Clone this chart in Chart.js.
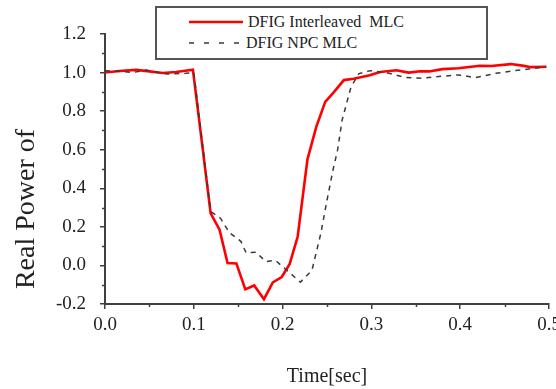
<!DOCTYPE html>
<html>
<head>
<meta charset="utf-8">
<script src="https://cdn.jsdelivr.net/npm/chart.js@4.4.1/dist/chart.umd.min.js"></script>
<style>
  html, body { margin: 0; padding: 0; background: #fff; }
  #wrap { position: relative; width: 556px; height: 389px; overflow: hidden; }
  #c { position: absolute; left: 0; top: 0; }
  #legend { position: absolute; left: 155px; top: 6px; width: 329px; height: 50px; border: 2px solid #555; background: #fff;
    font-family: "Liberation Serif", "Times New Roman", serif; font-size: 16px; color: #222; }
  .lrow { position: absolute; left: 0; height: 16px; line-height: 16px; white-space: pre; }
  .ltext { position: absolute; top: 0; }
  #ytitle { position: absolute; left: -75px; top: 193px; width: 200px; height: 32px; line-height: 32px; text-align: center;
    font-family: "Liberation Serif", "Times New Roman", serif; font-size: 28px; color: #222; transform: rotate(-90deg); }
</style>
</head>
<body>
<div id="wrap">
  <canvas id="c" width="556" height="389"></canvas>
  <div id="legend"></div>
  <div id="ytitle">Real Power of</div>
</div>
<script>
// ---- data ----
const seriesNames = ["DFIG Interleaved  MLC", "DFIG NPC MLC"];
const xTitle = "Time[sec]";

const timeInterleaved = [0.000, 0.016, 0.035, 0.050, 0.065, 0.080, 0.099, 0.119, 0.129, 0.138, 0.148, 0.158, 0.168, 0.179, 0.189, 0.199, 0.208, 0.217, 0.228, 0.238, 0.248, 0.258, 0.269, 0.280, 0.297, 0.310, 0.328, 0.342, 0.355, 0.365, 0.380, 0.398, 0.422, 0.435, 0.457, 0.470, 0.480, 0.497];
const powerInterleaved = [1.000, 1.008, 1.014, 1.006, 0.998, 1.003, 1.015, 0.270, 0.185, 0.012, 0.010, -0.124, -0.104, -0.175, -0.088, -0.060, 0.008, 0.150, 0.550, 0.720, 0.848, 0.900, 0.961, 0.968, 0.985, 1.003, 1.012, 1.000, 1.007, 1.006, 1.018, 1.022, 1.035, 1.034, 1.044, 1.036, 1.028, 1.030];

const timeNPC = [0.000, 0.020, 0.031, 0.046, 0.070, 0.091, 0.100, 0.119, 0.130, 0.140, 0.153, 0.159, 0.170, 0.181, 0.192, 0.206, 0.220, 0.233, 0.243, 0.250, 0.257, 0.262, 0.267, 0.277, 0.286, 0.299, 0.320, 0.338, 0.357, 0.372, 0.398, 0.417, 0.440, 0.458, 0.477, 0.497];
const powerNPC = [1.010, 1.005, 1.000, 1.013, 0.992, 0.996, 1.000, 0.280, 0.245, 0.170, 0.125, 0.065, 0.069, 0.020, 0.026, -0.030, -0.087, -0.026, 0.165, 0.338, 0.500, 0.600, 0.753, 0.925, 0.995, 1.010, 0.996, 0.975, 0.970, 0.978, 0.988, 0.974, 0.996, 1.008, 1.018, 1.030];

const xMinorTicks = [0.05, 0.15, 0.25, 0.35, 0.45];
const yMinorTicks = [-0.1, 0.1, 0.3, 0.5, 0.7, 0.9, 1.1];

// ---- styling ----
const axisColor = '#404040';
const textColor = '#222';
const serif = '"Liberation Serif", "Times New Roman", serif';
const redColor = '#ff0000';
const dashColor = '#3a3a3a';

function toPoints(xs, ys) { return xs.map((x, i) => ({ x: x, y: ys[i] })); }
function fmt(v) { const n = Number(v); return (Math.abs(n) < 1e-9 ? 0 : n).toFixed(1); }

// ---- HTML legend (real text) ----
(function buildLegend() {
  const lg = document.getElementById('legend');
  const rows = [
    { name: seriesNames[0], cy: 14, textLeft: 91, sample: '<svg width="54" height="6" style="position:absolute;left:32px;top:5px"><line x1="0" y1="3" x2="54" y2="3" stroke="' + redColor + '" stroke-width="2.6"/></svg>' },
    { name: seriesNames[1], cy: 35, textLeft: 89, sample: '<svg width="56" height="6" style="position:absolute;left:32px;top:5px"><line x1="0" y1="3" x2="56" y2="3" stroke="' + dashColor + '" stroke-width="1.5" stroke-dasharray="5 10"/></svg>' }
  ];
  rows.forEach(r => {
    const d = document.createElement('div');
    d.className = 'lrow';
    d.style.top = (r.cy - 8) + 'px';
    d.style.width = '100%';
    d.innerHTML = r.sample + '<span class="ltext" style="left:' + r.textLeft + 'px"></span>';
    d.querySelector('.ltext').textContent = r.name;
    lg.appendChild(d);
  });
})();

// ---- minor ticks plugin (positions via the scales) ----
const minorTickPlugin = {
  id: 'minorTicks',
  afterDraw(chart) {
    const ctx = chart.ctx, xs = chart.scales.x, ys = chart.scales.y;
    ctx.save();
    ctx.strokeStyle = axisColor;
    ctx.lineWidth = 1.5;
    ctx.beginPath();
    xMinorTicks.forEach(v => {
      const px = Math.round(xs.getPixelForValue(v)) + 0.5;
      ctx.moveTo(px, xs.top);
      ctx.lineTo(px, xs.top + 3);
    });
    yMinorTicks.forEach(v => {
      const py = Math.round(ys.getPixelForValue(v)) + 0.5;
      ctx.moveTo(ys.right - 3, py);
      ctx.lineTo(ys.right, py);
    });
    ctx.stroke();
    ctx.restore();
  }
};

new Chart(document.getElementById('c'), {
  type: 'line',
  data: {
    datasets: [
      {
        label: seriesNames[1],
        data: toPoints(timeNPC, powerNPC),
        borderColor: dashColor,
        borderWidth: 1.5,
        borderDash: [5, 5],
        pointRadius: 0,
        tension: 0,
        fill: false,
        order: 0
      },
      {
        label: seriesNames[0],
        data: toPoints(timeInterleaved, powerInterleaved),
        borderColor: redColor,
        borderWidth: 2.6,
        pointRadius: 0,
        tension: 0,
        fill: false,
        order: 1
      }
    ]
  },
  options: {
    responsive: false,
    devicePixelRatio: 1,
    animation: false,
    events: [],
    layout: { padding: { top: 34, right: 7, left: 0, bottom: 0 } },
    plugins: { legend: { display: false }, tooltip: { enabled: false }, title: { display: false } },
    scales: {
      x: {
        type: 'linear',
        min: 0, max: 0.5,
        border: { display: true, color: axisColor, width: 2 },
        grid: { display: true, drawOnChartArea: false, drawTicks: true, tickLength: 5, color: axisColor, lineWidth: 1.5 },
        ticks: { stepSize: 0.1, padding: 5, color: textColor, font: { family: serif, size: 19 }, maxRotation: 0, autoSkip: false,
                 callback: v => fmt(v) },
        title: { display: true, text: xTitle, color: textColor, font: { family: serif, size: 20 }, padding: { top: 0, bottom: 0 } },
        afterFit: s => { s.height = 85; s.paddingLeft = 0; s.paddingRight = 0; }
      },
      y: {
        type: 'linear',
        min: -0.2, max: 1.2,
        border: { display: true, color: axisColor, width: 2 },
        grid: { display: true, drawOnChartArea: false, drawTicks: true, tickLength: 5, color: axisColor, lineWidth: 1.5 },
        ticks: { stepSize: 0.2, padding: 14, color: textColor, font: { family: serif, size: 19 }, autoSkip: false,
                 callback: v => fmt(v) },
        afterFit: s => { s.width = 105; s.paddingTop = 0; s.paddingBottom = 0; }
      }
    }
  },
  plugins: [minorTickPlugin]
});
</script>
</body>
</html>
